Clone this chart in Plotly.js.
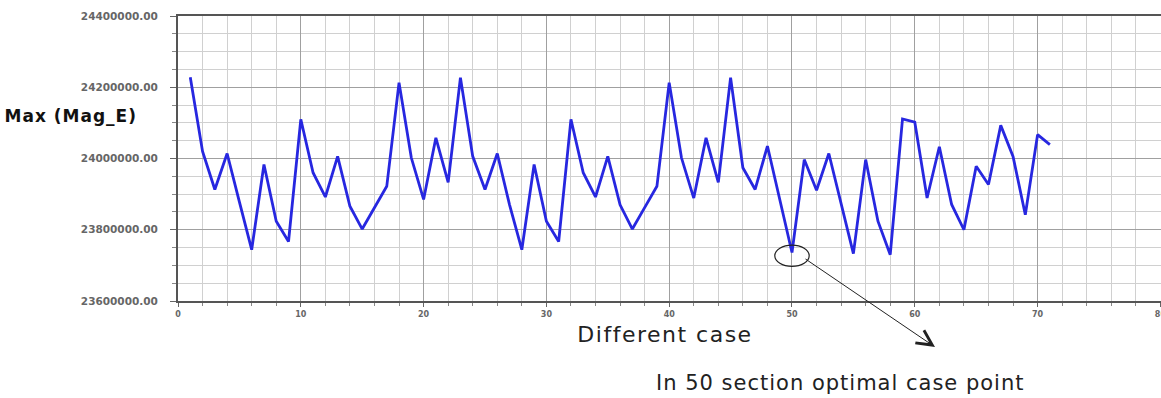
<!DOCTYPE html>
<html>
<head>
<meta charset="utf-8">
<script src="https://cdn.plot.ly/plotly-3.0.1.min.js"></script>
<style>
html,body{margin:0;padding:0;background:#fff;}
#chart{width:1161px;height:398px;}
.annotation[data-index="0"] text{letter-spacing:1px;}
.annotation[data-index="1"] text{letter-spacing:1.5px;}
.annotation[data-index="2"] text{letter-spacing:1px;}
</style>
</head>
<body>
<div id="chart"></div>
<script>
// Case numbers (x)
const cases = [1,2,3,4,5,6,7,8,9,10,11,12,13,14,15,16,17,18,19,20,
  21,22,23,24,25,26,27,28,29,30,31,32,33,34,35,36,37,38,39,40,
  41,42,43,44,45,46,47,48,49,50,51,52,53,54,55,56,57,58,59,60,
  61,62,63,64,65,66,67,68,69,70,71];
// Max (Mag_E) values
const maxMagE = [24228000,24020000,23913000,24014000,23878000,23744000,23983000,23824000,23767000,24110000,
  23960000,23892000,24006000,23866000,23802000,23862000,23922000,24213000,24002000,23885000,
  24058000,23933000,24227000,24006000,23913000,24014000,23870000,23744000,23983000,23824000,
  23767000,24110000,23960000,23892000,24006000,23870000,23802000,23862000,23922000,24213000,
  24002000,23889000,24058000,23933000,24227000,23974000,23913000,24035000,23885000,23736000,
  23997000,23911000,24014000,23873000,23733000,23997000,23824000,23730000,24111000,24102000,
  23889000,24033000,23871000,23800000,23978000,23927000,24093000,24006000,23842000,24067000,
  24039000];
const yTitle = "Max (Mag_E)";
const xTitle = "Different case";
const noteText = "In 50 section optimal case point";
const optimalCase = 50;
const optimalValue = 23727000;

const trace = {
  x: cases, y: maxMagE, type: 'scatter', mode: 'lines',
  line: {color: '#2727e0', width: 2.8}, hoverinfo: 'skip'
};

const layout = {
  width: 1161, height: 398,
  margin: {l: 178, r: 0, t: 16, b: 97},
  paper_bgcolor: '#fff', plot_bgcolor: '#fff',
  showlegend: false,
  font: {family: 'DejaVu Sans', color: '#555'},
  xaxis: {
    range: [0, 80.05], dtick: 10, tick0: 0,
    showgrid: true, gridcolor: '#a0a0a0', gridwidth: 1,
    showline: true, linecolor: '#555', linewidth: 2, mirror: true,
    ticks: 'outside', ticklen: 4, tickcolor: '#666',
    ticklabeloverflow: 'allow',
    tickfont: {size: 8, color: '#666', weight: 'bold'},
    minor: {dtick: 2, showgrid: true, gridcolor: '#d0d0d0', ticks: 'outside', ticklen: 3, tickcolor: '#888'},
    zeroline: false, fixedrange: true
  },
  yaxis: {
    range: [23600000, 24400000], dtick: 200000, tick0: 23600000,
    tickformat: '.2f',
    showgrid: true, gridcolor: '#a0a0a0', gridwidth: 1,
    showline: true, linecolor: '#555', linewidth: 2,
    ticks: 'outside', ticklen: 6, tickcolor: '#666',
    ticklabelstandoff: 10,
    tickfont: {size: 10.5, color: '#666', weight: 'bold'},
    minor: {dtick: 50000, showgrid: true, gridcolor: '#d0d0d0', ticks: 'outside', ticklen: 4, tickcolor: '#888'},
    zeroline: false, fixedrange: true
  },
  shapes: [{
    type: 'circle', xref: 'x', yref: 'y',
    x0: optimalCase - 1.4, x1: optimalCase + 1.4,
    y0: optimalValue - 30000, y1: optimalValue + 30000,
    line: {color: '#222', width: 1.2}
  }],
  annotations: [
    {text: yTitle, xref: 'paper', yref: 'paper', x: -0.173, y: 0.649,
     xanchor: 'left', yanchor: 'middle', showarrow: false,
     font: {family: 'DejaVu Sans', size: 17, color: '#111', weight: 'bold'}},
    {text: xTitle, xref: 'paper', yref: 'paper', x: 0.4954, y: -0.119,
     xanchor: 'center', yanchor: 'middle', showarrow: false,
     font: {family: 'DejaVu Sans', size: 22, color: '#222'}},
    {text: noteText, xref: 'paper', yref: 'paper', x: 0.6734, y: -0.2877,
     xanchor: 'center', yanchor: 'middle', showarrow: false,
     font: {family: 'DejaVu Sans', size: 21, color: '#222'}},
    {text: '', xref: 'paper', yref: 'paper', x: 0.7701, y: -0.1614,
     showarrow: true, ax: -131, ay: -89, axref: 'pixel', ayref: 'pixel',
     arrowhead: 5, arrowsize: 3, arrowwidth: 1, arrowcolor: '#222', standoff: 0, startstandoff: 0}
  ]
};

Plotly.newPlot('chart', [trace], layout, {displayModeBar: false, staticPlot: true});
</script>
</body>
</html>
